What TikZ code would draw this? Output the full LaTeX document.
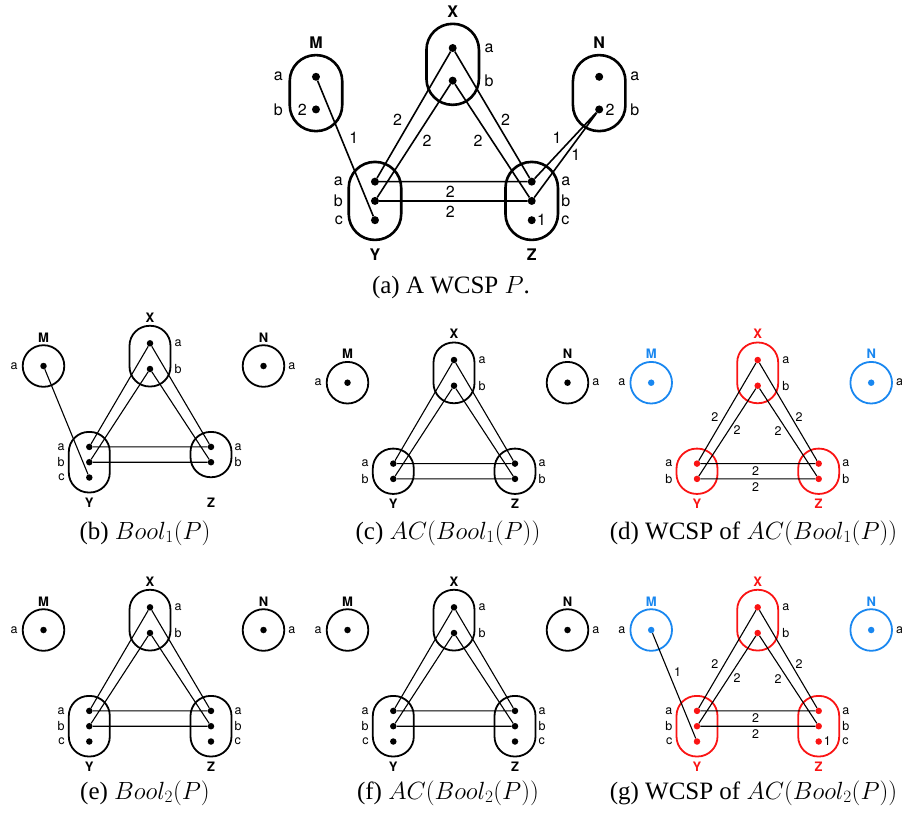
\documentclass[tikz,border=0pt]{standalone}
\usepackage{fontspec}
\setmainfont{Liberation Serif}
\newfontfamily\lblfont{TeX Gyre Heros}
\usetikzlibrary{positioning}
\definecolor{wred}{RGB}{250,20,20}
\definecolor{wblue}{RGB}{25,135,240}

\begin{document}
\begin{tikzpicture}[x=1pt,y=-1pt,
  dom/.style={draw, line width=1.8pt, rounded corners=20pt, minimum width=41pt, inner sep=0pt},
  sdom/.style={draw, circle, line width=1.8pt, minimum size=41.6pt, inner sep=0pt},
  val/.style={circle, fill, inner sep=0pt, minimum size=6.5pt},
  lbl/.style={font=\lblfont\fontsize{12.5}{14}\selectfont, inner sep=0pt},
  var/.style={font=\lblfont\bfseries\fontsize{13}{15}\selectfont, inner sep=0pt},
  wt/.style={lbl},
  edge/.style={line width=1.1pt},
  bdom/.style={draw, line width=2.6pt, rounded corners=26pt, minimum width=52.5pt, inner sep=0pt},
  bval/.style={circle, fill, inner sep=0pt, minimum size=8pt},
  blbl/.style={font=\lblfont\fontsize{16}{18}\selectfont, inner sep=0pt},
  bvar/.style={font=\lblfont\bfseries\fontsize{16}{18}\selectfont, inner sep=0pt},
  bedge/.style={line width=1.6pt},
  captxt/.style={font=\fontsize{25}{30}\selectfont, inner sep=0pt}]
\useasboundingbox (0,0) rectangle (902,815);

% (a) the WCSP
\begin{scope}[shift={(452.7,48)}, scale=1.285]
\node[bval] (aXa) at (0,0) {};
\node[bval] (aXb) at (0,25.4) {};
\node[bval] (aMa) at (-106.4,22.4) {};
\node[bval] (aMb) at (-106.4,47.8) {};
\node[bval] (aNa) at (114,22.4) {};
\node[bval] (aNb) at (114,47.8) {};
\foreach \v/\yy in {a/104,b/119,c/134} {
  \node[bval] (aY\v) at (-60.5,\yy) {};
  \node[bval] (aZ\v) at (61.5,\yy) {};
}
\node[bdom, minimum height=81pt] (aX) at (0,12.7) {};
\node[bdom, minimum height=76pt] (aM) at (-106.4,35.1) {};
\node[bdom, minimum height=76pt] (aN) at (114,35.1) {};
\node[bdom, minimum height=78pt] (aY) at (-60.5,119) {};
\node[bdom, minimum height=78pt] (aZ) at (61.5,119) {};
\node[bvar, above=5pt of aX] (aXl) {X};
\node[bvar, above=5pt of aM] (aMl) {M};
\node[bvar, above=5pt of aN] (aNl) {N};
\node[bvar, below=7pt of aY] (aYl) {Y};
\node[bvar, below=7pt of aZ] (aZl) {Z};
\foreach \v in {a,b} {
  \node[blbl, right=27.6pt of aX\v] (aXl\v) {\v};
  \node[blbl, left=28.7pt of aM\v] (aMl\v) {\v};
  \node[blbl, right=26.7pt of aN\v] (aNl\v) {\v};
}
\foreach \v in {a,b,c} {
  \node[blbl, left=27.7pt of aY\v] (aYl\v) {\v};
  \node[blbl, right=25.3pt of aZ\v] (aZl\v) {\v};
}
\node[blbl, left=4.7pt of aMb] (aw1) {2};
\node[blbl, right=2pt of aNb] (aw2) {2};
\node[blbl, right=1pt of aZc] (aw3) {1};
\draw[bedge] (aMa) -- node[blbl, pos=0.42, right=7.5pt] (aw4) {1} (aYc)
  (aXa) -- node[blbl, pos=0.54, left=8pt] (aw5) {2} (aYa)
  (aXb) -- node[blbl, pos=0.5, right=8pt] (aw6) {2} (aYb)
  (aXa) -- node[blbl, pos=0.54, right=5pt] (aw7) {2} (aZa)
  (aXb) -- node[blbl, pos=0.5, left=9pt] (aw8) {2} (aZb)
  (aYa) -- node[blbl, pos=0.48, below=4pt] (aw9) {2} (aZa)
  (aYb) -- node[blbl, pos=0.48, below=4pt] (aw10) {2} (aZb)
  (aNb) -- node[blbl, pos=0.39, left=10pt] (aw11) {1} (aZa)
  (aNb) -- node[blbl, pos=0.49, right=4.5pt] (aw12) {1} (aZb);
\end{scope}
\node[captxt] (capa) at (451,287.5) {(a) A WCSP $P$.};

% (b)
\begin{scope}[shift={(150,343.3)}]
\node[val] (bXa) at (0,0) {};
\node[val] (bXb) at (0,25.7) {};
\foreach \v/\yy in {a/103.6,b/118.9,c/134.2} \node[val] (bY\v) at (-60.7,\yy) {};
\foreach \v/\yy in {a/103.6,b/118.9} \node[val] (bZ\v) at (61,\yy) {};
\node[dom, minimum height=60.7pt] (bX) at (0,12.85) {};
\node[dom, minimum height=60.6pt] (bY) at (-60.7,118.9) {};
\node[dom, minimum height=45.3pt] (bZ) at (61,111.25) {};
\node[sdom] (bM) at (-106.5,22.7) {};
\node[val] (bMa) at (bM) {};
\node[sdom] (bN) at (113.5,22.7) {};
\node[val] (bNa) at (bN) {};
\node[var, above=2.5pt of bX] (bXl) {X};
\node[var, above=2pt of bM] (bMl) {M};
\node[var, above=2pt of bN] (bNl) {N};
\node[var, below=4.5pt of bY] (bYl) {Y};
\node[var] (bZl) at (bZ |- bYl) {Z};
\foreach \v in {a,b} \node[lbl, right=21pt of bX\v] (bXl\v) {\v};
\foreach \v in {a,b,c} \node[lbl, left=21pt of bY\v] (bYl\v) {\v};
\foreach \v in {a,b} \node[lbl, right=20pt of bZ\v] (bZl\v) {\v};
\node[lbl, left=4pt of bM] (bMla) {a};
\node[lbl, right=3pt of bN] (bNla) {a};
\draw[edge] (bMa) -- (bYc) (bXa) -- (bYa) (bXb) -- (bYb) (bXa) -- (bZa)
  (bXb) -- (bZb) (bYa) -- (bZa) (bYb) -- (bZb);
\end{scope}
\node[captxt] (capb) at (145,533) {(b) $Bool_1(P)$};

% (c)
\begin{scope}[shift={(454,360)}]
\node[val] (cXa) at (0,0) {};
\node[val] (cXb) at (0,25.7) {};
\foreach \v/\yy in {a/103.6,b/118.9} {
  \node[val] (cY\v) at (-60.7,\yy) {};
  \node[val] (cZ\v) at (61,\yy) {};
}
\node[dom, minimum height=60.7pt] (cX) at (0,12.85) {};
\node[dom, minimum height=45.3pt] (cY) at (-60.7,111.25) {};
\node[dom, minimum height=45.3pt] (cZ) at (61,111.25) {};
\node[sdom] (cM) at (-106.5,22.7) {};
\node[val] (cMa) at (cM) {};
\node[sdom] (cN) at (113.5,22.7) {};
\node[val] (cNa) at (cN) {};
\node[var, above=2.5pt of cX] (cXl) {X};
\node[var, above=2pt of cM] (cMl) {M};
\node[var, above=2pt of cN] (cNl) {N};
\node[var, below=4.5pt of cY] (cYl) {Y};
\node[var, below=4.5pt of cZ] (cZl) {Z};
\foreach \v in {a,b} {
  \node[lbl, right=21pt of cX\v] (cXl\v) {\v};
  \node[lbl, left=21pt of cY\v] (cYl\v) {\v};
  \node[lbl, right=20pt of cZ\v] (cZl\v) {\v};
}
\node[lbl, left=4pt of cM] (cMla) {a};
\node[lbl, right=3pt of cN] (cNla) {a};
\draw[edge] (cXa) -- (cYa) (cXb) -- (cYb) (cXa) -- (cZa)
  (cXb) -- (cZb) (cYa) -- (cZa) (cYb) -- (cZb);
\end{scope}
\node[captxt] (capc) at (448,533) {(c) $AC(Bool_1(P))$};

% (d)
\begin{scope}[shift={(757.7,360)}]
\node[val, wred] (dXa) at (0,0) {};
\node[val, wred] (dXb) at (0,25.7) {};
\foreach \v/\yy in {a/103.6,b/118.9} {
  \node[val, wred] (dY\v) at (-60.7,\yy) {};
  \node[val, wred] (dZ\v) at (61,\yy) {};
}
\node[dom, wred, minimum height=60.7pt] (dX) at (0,12.85) {};
\node[dom, wred, minimum height=45.3pt] (dY) at (-60.7,111.25) {};
\node[dom, wred, minimum height=45.3pt] (dZ) at (61,111.25) {};
\node[sdom, wblue] (dM) at (-106.5,22.7) {};
\node[val, wblue] (dMa) at (dM) {};
\node[sdom, wblue] (dN) at (113.5,22.7) {};
\node[val, wblue] (dNa) at (dN) {};
\node[var, wred, above=2.5pt of dX] (dXl) {X};
\node[var, wblue, above=2pt of dM] (dMl) {M};
\node[var, wblue, above=2pt of dN] (dNl) {N};
\node[var, wred, below=4.5pt of dY] (dYl) {Y};
\node[var, wred, below=4.5pt of dZ] (dZl) {Z};
\foreach \v in {a,b} {
  \node[lbl, right=21pt of dX\v] (dXl\v) {\v};
  \node[lbl, left=21pt of dY\v] (dYl\v) {\v};
  \node[lbl, right=20pt of dZ\v] (dZl\v) {\v};
}
\node[lbl, left=4pt of dM] (dMla) {a};
\node[lbl, right=3pt of dN] (dNla) {a};
\draw[edge] (dXa) -- node[wt, pos=0.55, left=5.5pt] (dw1) {2} (dYa)
  (dXb) -- node[wt, pos=0.48, right=4.5pt] (dw2) {2} (dYb)
  (dXa) -- node[wt, pos=0.55, right=4pt] (dw3) {2} (dZa)
  (dXb) -- node[wt, pos=0.49, left=5.5pt] (dw4) {2} (dZb)
  (dYa) -- node[wt, pos=0.48, below=2.5pt] (dw5) {2} (dZa)
  (dYb) -- node[wt, pos=0.48, below=3pt] (dw6) {2} (dZb);
\end{scope}
\node[captxt] (capd) at (753.5,533) {(d) WCSP of $AC(Bool_1(P))$};

% (e)
\begin{scope}[shift={(150,607.3)}]
\node[val] (eXa) at (0,0) {};
\node[val] (eXb) at (0,25.7) {};
\foreach \v/\yy in {a/103.6,b/118.9,c/134.2} {
  \node[val] (eY\v) at (-60.7,\yy) {};
  \node[val] (eZ\v) at (61,\yy) {};
}
\node[dom, minimum height=60.7pt] (eX) at (0,12.85) {};
\node[dom, minimum height=60.6pt] (eY) at (-60.7,118.9) {};
\node[dom, minimum height=60.6pt] (eZ) at (61,118.9) {};
\node[sdom] (eM) at (-106.5,22.7) {};
\node[val] (eMa) at (eM) {};
\node[sdom] (eN) at (113.5,22.7) {};
\node[val] (eNa) at (eN) {};
\node[var, above=2.5pt of eX] (eXl) {X};
\node[var, above=2pt of eM] (eMl) {M};
\node[var, above=2pt of eN] (eNl) {N};
\node[var, below=4.5pt of eY] (eYl) {Y};
\node[var, below=4.5pt of eZ] (eZl) {Z};
\foreach \v in {a,b} \node[lbl, right=21pt of eX\v] (eXl\v) {\v};
\foreach \v in {a,b,c} {
  \node[lbl, left=21pt of eY\v] (eYl\v) {\v};
  \node[lbl, right=20pt of eZ\v] (eZl\v) {\v};
}
\node[lbl, left=4pt of eM] (eMla) {a};
\node[lbl, right=3pt of eN] (eNla) {a};
\draw[edge] (eXa) -- (eYa) (eXb) -- (eYb) (eXa) -- (eZa)
  (eXb) -- (eZb) (eYa) -- (eZa) (eYb) -- (eZb);
\end{scope}
\node[captxt] (cape) at (145,793) {(e) $Bool_2(P)$};

% (f)
\begin{scope}[shift={(454,607.3)}]
\node[val] (fXa) at (0,0) {};
\node[val] (fXb) at (0,25.7) {};
\foreach \v/\yy in {a/103.6,b/118.9,c/134.2} {
  \node[val] (fY\v) at (-60.7,\yy) {};
  \node[val] (fZ\v) at (61,\yy) {};
}
\node[dom, minimum height=60.7pt] (fX) at (0,12.85) {};
\node[dom, minimum height=60.6pt] (fY) at (-60.7,118.9) {};
\node[dom, minimum height=60.6pt] (fZ) at (61,118.9) {};
\node[sdom] (fM) at (-106.5,22.7) {};
\node[val] (fMa) at (fM) {};
\node[sdom] (fN) at (113.5,22.7) {};
\node[val] (fNa) at (fN) {};
\node[var, above=2.5pt of fX] (fXl) {X};
\node[var, above=2pt of fM] (fMl) {M};
\node[var, above=2pt of fN] (fNl) {N};
\node[var, below=4.5pt of fY] (fYl) {Y};
\node[var, below=4.5pt of fZ] (fZl) {Z};
\foreach \v in {a,b} \node[lbl, right=21pt of fX\v] (fXl\v) {\v};
\foreach \v in {a,b,c} {
  \node[lbl, left=21pt of fY\v] (fYl\v) {\v};
  \node[lbl, right=20pt of fZ\v] (fZl\v) {\v};
}
\node[lbl, left=4pt of fM] (fMla) {a};
\node[lbl, right=3pt of fN] (fNla) {a};
\draw[edge] (fXa) -- (fYa) (fXb) -- (fYb) (fXa) -- (fZa)
  (fXb) -- (fZb) (fYa) -- (fZa) (fYb) -- (fZb);
\end{scope}
\node[captxt] (capf) at (448,793) {(f) $AC(Bool_2(P))$};

% (g)
\begin{scope}[shift={(757.7,607.3)}]
\node[val, wred] (gXa) at (0,0) {};
\node[val, wred] (gXb) at (0,25.7) {};
\foreach \v/\yy in {a/103.6,b/118.9,c/134.2} {
  \node[val, wred] (gY\v) at (-60.7,\yy) {};
  \node[val, wred] (gZ\v) at (61,\yy) {};
}
\node[dom, wred, minimum height=60.7pt] (gX) at (0,12.85) {};
\node[dom, wred, minimum height=60.6pt] (gY) at (-60.7,118.9) {};
\node[dom, wred, minimum height=60.6pt] (gZ) at (61,118.9) {};
\node[sdom, wblue] (gM) at (-106.5,22.7) {};
\node[val, wblue] (gMa) at (gM) {};
\node[sdom, wblue] (gN) at (113.5,22.7) {};
\node[val, wblue] (gNa) at (gN) {};
\node[var, wred, above=2.5pt of gX] (gXl) {X};
\node[var, wblue, above=2pt of gM] (gMl) {M};
\node[var, wblue, above=2pt of gN] (gNl) {N};
\node[var, wred, below=4.5pt of gY] (gYl) {Y};
\node[var, wred, below=4.5pt of gZ] (gZl) {Z};
\foreach \v in {a,b} \node[lbl, right=21pt of gX\v] (gXl\v) {\v};
\foreach \v in {a,b,c} {
  \node[lbl, left=21pt of gY\v] (gYl\v) {\v};
  \node[lbl, right=20pt of gZ\v] (gZl\v) {\v};
}
\node[lbl, left=4pt of gM] (gMla) {a};
\node[lbl, right=3pt of gN] (gNla) {a};
\node[wt, right=1.5pt of gZc] (gw8) {1};
\draw[edge] (gMa) -- node[wt, pos=0.37, right=5pt] (gw7) {1} (gYc)
  (gXa) -- node[wt, pos=0.55, left=5.5pt] (gw1) {2} (gYa)
  (gXb) -- node[wt, pos=0.48, right=4.5pt] (gw2) {2} (gYb)
  (gXa) -- node[wt, pos=0.55, right=4pt] (gw3) {2} (gZa)
  (gXb) -- node[wt, pos=0.49, left=5.5pt] (gw4) {2} (gZb)
  (gYa) -- node[wt, pos=0.48, below=2.5pt] (gw5) {2} (gZa)
  (gYb) -- node[wt, pos=0.48, below=3pt] (gw6) {2} (gZb);
\end{scope}
\node[captxt] (capg) at (753.5,793) {(g) WCSP of $AC(Bool_2(P))$};
\end{tikzpicture}
\end{document}
